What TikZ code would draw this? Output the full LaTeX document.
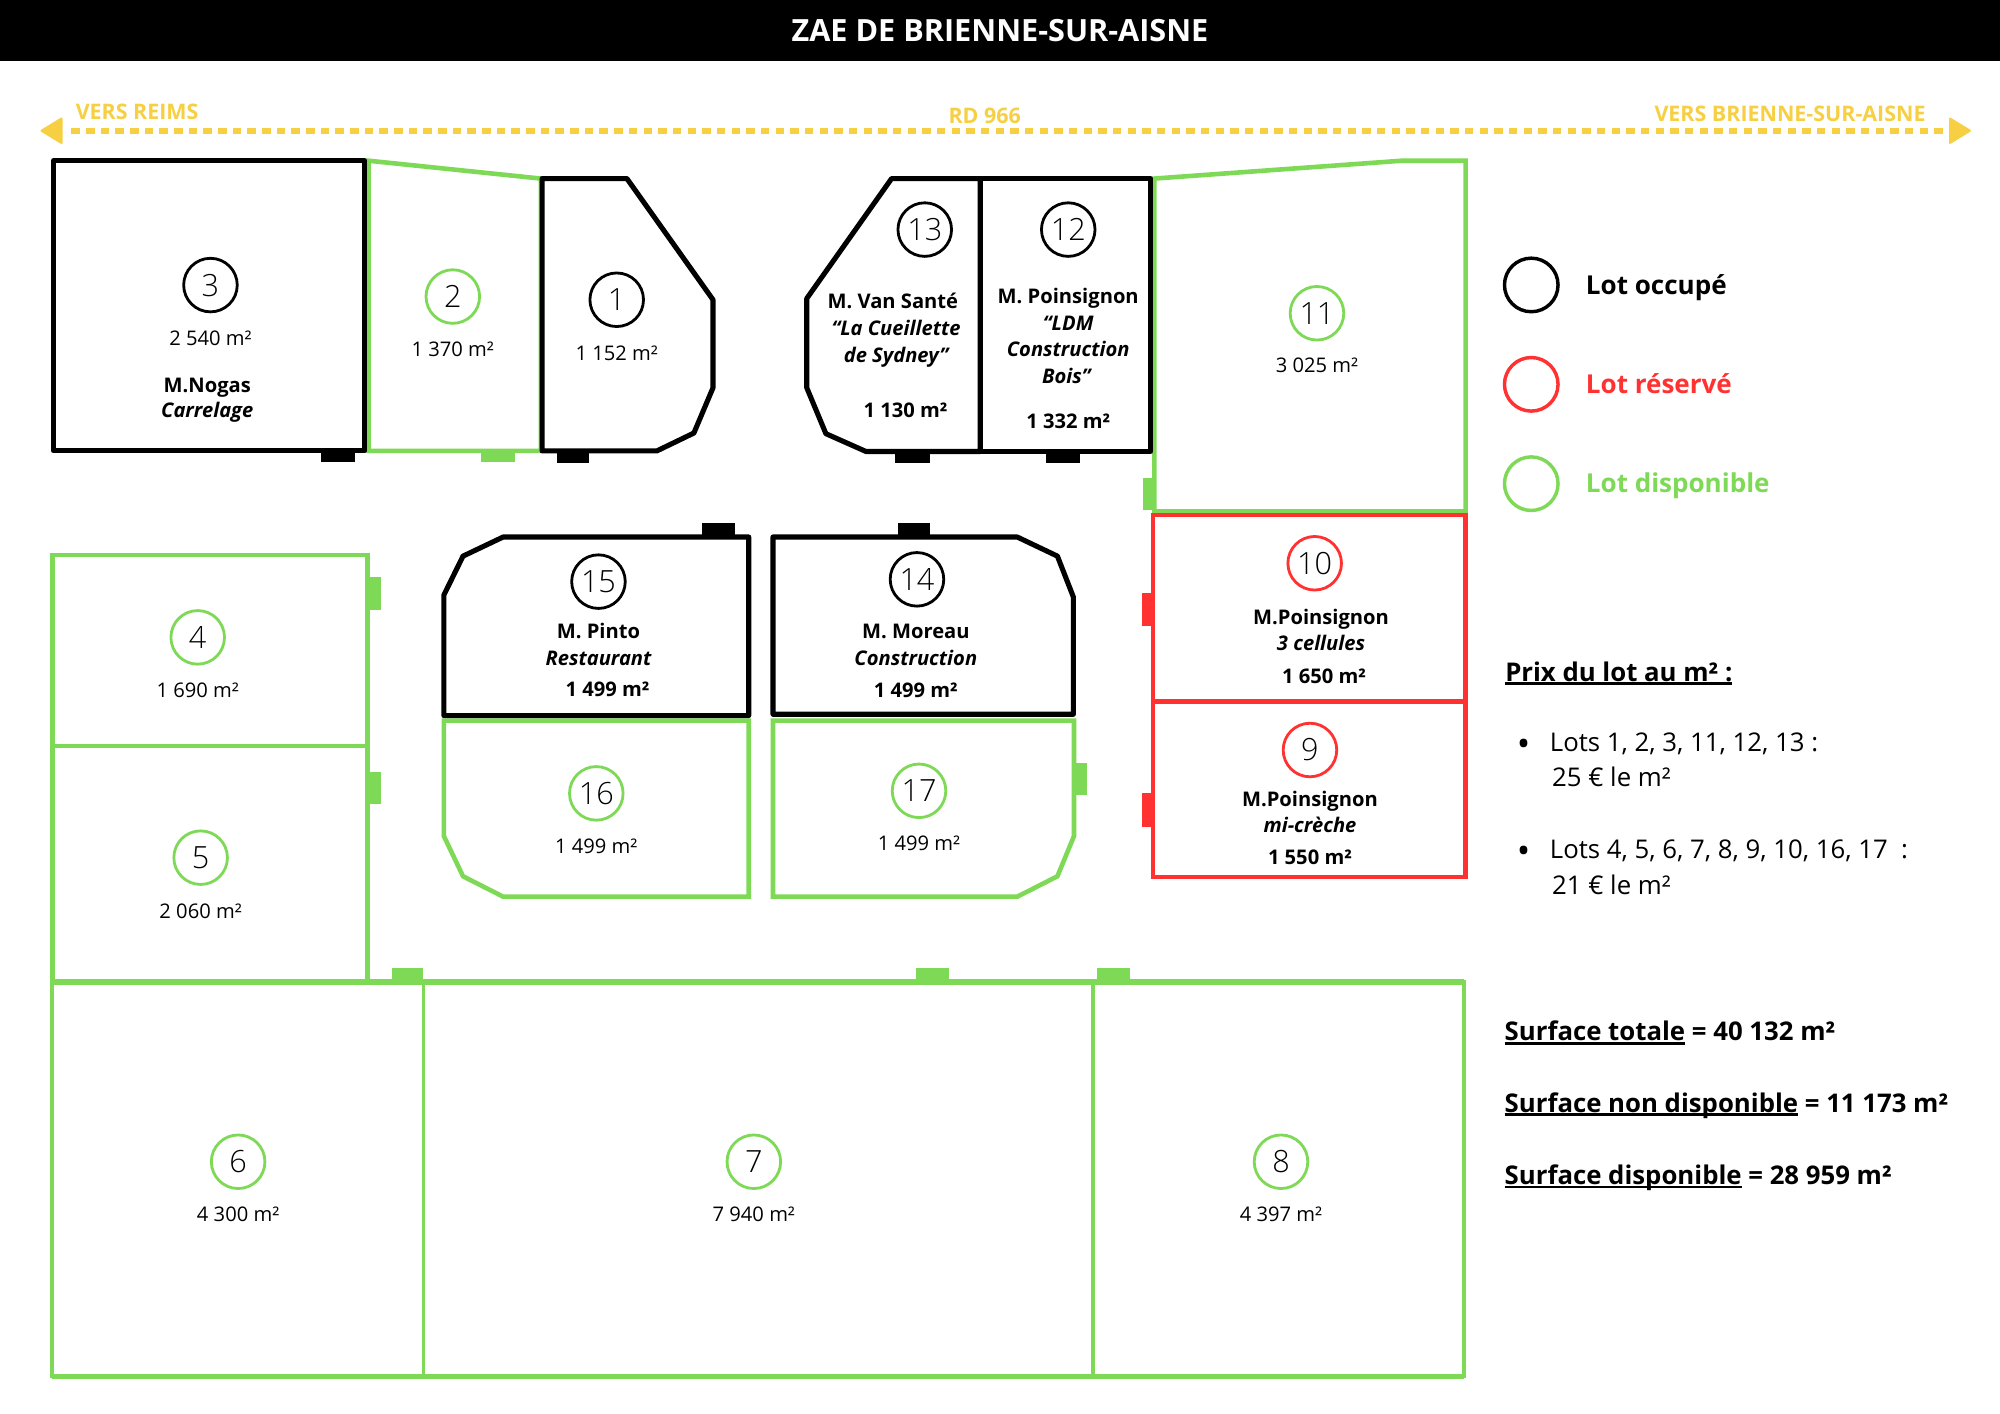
\documentclass[tikz,border=0pt]{standalone}
\usepackage{fontspec}
\setmainfont{Open Sans}
\IfFontExistsTF{Open Sans Light}{\newfontfamily\numfont{Open Sans Light}}{\newfontfamily\numfont{Open Sans}}
\definecolor{lgreen}{HTML}{7ED957}
\definecolor{lred}{HTML}{FF3131}
\definecolor{lyellow}{HTML}{F6D042}
\newcommand\ulx[1]{\sbox0{#1}\rlap{\rule[-1.6pt]{\wd0}{1.1pt}}\usebox0}
\begin{document}
\begin{tikzpicture}[x=0.5pt,y=-0.5pt,
 blk/.style={draw=black,line width=2pt,line join=round},
 grn/.style={draw=lgreen,line width=1.8pt},
 rdl/.style={draw=lred,line width=1.7pt},
 num/.style={circle,draw=#1,line width=1.1pt,minimum size=21pt,inner sep=0pt,font=\fontsize{12}{12}\numfont},
 legc/.style={circle,draw=#1,line width=1.35pt,minimum size=21pt,inner sep=0pt},
 area/.style={inner sep=0pt,text height=5.7pt,text depth=0pt,font=\fontsize{7.9}{9}\selectfont},
 bl/.style={area,font=\fontsize{7.9}{9}\selectfont\bfseries},
 bi/.style={area,font=\fontsize{7.9}{9}\selectfont\bfseries\itshape},
 big/.style={inner sep=0pt,text height=7.3pt,text depth=0pt,anchor=west,font=\fontsize{10.1}{12}\selectfont},
 bigb/.style={big,font=\fontsize{10.1}{12}\selectfont\bfseries},
 bul/.style={inner sep=0pt,anchor=base,font=\fontsize{14}{15}\selectfont},
 legt/.style={inner sep=0pt,text height=7.3pt,text depth=0pt,anchor=west,font=\fontsize{10.2}{12}\selectfont\bfseries},
 road/.style={inner sep=0pt,text height=6pt,text depth=0pt,text=lyellow,font=\fontsize{8.4}{10}\selectfont\bfseries},
 tabk/.style={fill=black},
 tabg/.style={fill=lgreen},
 tabr/.style={fill=lred},
]
\useasboundingbox[fill=white] (0,0) rectangle (1568,1108);
% title bar
\fill[black] (0,0) rectangle (1568,48);
\node[text=white,inner sep=0pt,text height=8.6pt,text depth=0pt,font=\fontsize{12}{14}\selectfont\bfseries] (title) at (784,24) {ZAE DE BRIENNE-SUR-AISNE};
% road
\coordinate (rl) at (56,102.5);
\coordinate (rr) at (1526,102.5);
\draw[lyellow,line width=2.35pt,dash pattern=on 3.3pt off 2.45pt] (rl) -- (rr);
\fill[lyellow,rounded corners=0.8pt] (31,102.5) -- (49,91.5) -- (49,113.5) -- cycle;
\fill[lyellow,rounded corners=0.8pt] (1546,102.5) -- (1528,91.5) -- (1528,113.5) -- cycle;
\node[road,anchor=west] (vr) at (59,88) {VERS REIMS};
\node[road] (rd) at (772,90.5) {RD 966};
\node[road,anchor=east] (vb) at (1510,89) {VERS BRIENNE-SUR-AISNE};
% green lots
\draw[grn] (289,126) -- (424,140) -- (424,353.5) -- (289,353.5) -- cycle;
\draw[grn] (905,140) -- (1099,126) -- (1149,126) -- (1149,401) -- (905,401) -- cycle;
\draw[grn] (41,435) rectangle (288,585);
\draw[grn] (41,585) rectangle (288,770);
\draw[grn] (348,565) -- (587,565) -- (587,703) -- (394.5,703) -- (363,687) -- (348,655.5) -- cycle;
\draw[grn] (606,565) -- (842,565) -- (842,655.5) -- (829,687) -- (797.5,703) -- (606,703) -- cycle;
\draw[grn,line width=1.5pt] (41,770) rectangle (1148,1079);
\draw[grn,line width=2.1pt] (41,770) -- (1148,770);
\draw[grn,line width=2.1pt] (41,1079) -- (1148,1079);
\draw[grn,line width=1.5pt] (332,770) -- (332,1079);
\draw[grn,line width=1.5pt] (857,770) -- (857,1079);
% red lots
\draw[rdl] (904,403.5) rectangle (1149,550);
\draw[rdl] (904,550) rectangle (1149,687.5);
% black lots
\draw[blk] (42,126) rectangle (286,353.5);
\draw[blk] (425,140) -- (491.5,140) -- (559,235) -- (559,304) -- (544,339.5) -- (515,353.5) -- (425,353.5) -- cycle;
\draw[blk] (699,140) -- (768.5,140) -- (768.5,354) -- (679,354) -- (647.5,340) -- (632.5,304) -- (632.5,234) -- cycle;
\draw[blk] (768.5,140) rectangle (902,354);
\draw[blk] (394.5,421) -- (587,421) -- (587,561) -- (348,561) -- (348,466.5) -- (363,436) -- cycle;
\draw[blk] (606,421) -- (797.5,421) -- (829,436) -- (841.5,468) -- (841.5,560) -- (606,560) -- cycle;
% access tabs
\fill[tabk] (252,353.5) rectangle (278,362.5);
\fill[tabg] (377,353.5) rectangle (404,362.5);
\fill[tabk] (437,354) rectangle (462,363);
\fill[tabk] (702,354) rectangle (729,363);
\fill[tabk] (820,354) rectangle (847,363);
\fill[tabg] (896,375) rectangle (905,400);
\fill[tabr] (895,465) rectangle (905,491);
\fill[tabr] (895,622) rectangle (905,648);
\fill[tabg] (288,452) rectangle (298.5,478);
\fill[tabg] (288,605) rectangle (298.5,630);
\fill[tabk] (550,410) rectangle (576,421);
\fill[tabk] (704,410) rectangle (729,421);
\fill[tabg] (841.5,598) rectangle (852,623);
\fill[tabg] (307,759) rectangle (332,770);
\fill[tabg] (718.5,759) rectangle (744,770);
\fill[tabg] (860,759) rectangle (886,770);
% lot 3
\node[num=black] (n3) at (165,223.5) {3};
\node[area] (a3) at (165,265) {2 540 m²};
\node[bl] (o3) at (162.5,302) {M.Nogas};
\node[bi] (t3) at (162.5,321.5) {Carrelage};
% lot 2
\node[num=lgreen] (n2) at (355,232.5) {2};
\node[area] (a2) at (355,274) {1 370 m²};
% lot 1
\node[num=black] (n1) at (483.5,235) {1};
\node[area] (a1) at (483.5,277) {1 152 m²};
% lot 13
\node[num=black] (n13) at (725,180) {13};
\node[bl] (o13) at (700,236.5) {M. Van Santé};
\node[bi] (t13a) at (702.5,257.4) {“La Cueillette};
\node[bi] (t13b) at (702.5,278.3) {de Sydney”};
\node[bl] (a13) at (710,322) {1 130 m²};
% lot 12
\node[num=black] (n12) at (837.5,180) {12};
\node[bl] (o12) at (837.5,232) {M. Poinsignon};
\node[bi] (t12a) at (837.5,253.5) {“LDM};
\node[bi] (t12b) at (837.5,274) {Construction};
\node[bi] (t12c) at (836,295) {Bois”};
\node[bl] (a12) at (837.5,330.6) {1 332 m²};
% lot 11
\node[num=lgreen] (n11) at (1032.5,245.6) {11};
\node[area] (a11) at (1032.5,286.7) {3 025 m²};
% lot 10
\node[num=lred] (n10) at (1030.7,441.6) {10};
\node[bl] (o10) at (1035.7,484) {M.Poinsignon};
\node[bi] (t10) at (1035.7,504.4) {3 cellules};
\node[bl] (a10) at (1038,530.5) {1 650 m²};
% lot 9
\node[num=lred] (n9) at (1027,588) {9};
\node[bl] (o9) at (1027,626.7) {M.Poinsignon};
\node[bi] (t9) at (1027,646.8) {mi-crèche};
\node[bl] (a9) at (1027,672.4) {1 550 m²};
% lot 4
\node[num=lgreen] (n4) at (155,499.7) {4};
\node[area] (a4) at (155,541) {1 690 m²};
% lot 5
\node[num=lgreen] (n5) at (157.3,672.4) {5};
\node[area] (a5) at (157.3,714.3) {2 060 m²};
% lot 15
\node[num=black] (n15) at (469.2,456) {15};
\node[bl] (o15) at (469.2,495.2) {M. Pinto};
\node[bi] (t15) at (469.2,516) {Restaurant};
\node[bl] (a15) at (476.3,540.4) {1 499 m²};
% lot 14
\node[num=black] (n14) at (718.9,454.2) {14};
\node[bl] (o14) at (718,495.2) {M. Moreau};
\node[bi] (t14) at (718,516) {Construction};
\node[bl] (a14) at (718,541) {1 499 m²};
% lot 16
\node[num=lgreen] (n16) at (467.5,622) {16};
\node[area] (a16) at (467.5,663.3) {1 499 m²};
% lot 17
\node[num=lgreen] (n17) at (720.5,620) {17};
\node[area] (a17) at (720.5,661.2) {1 499 m²};
% lots 6 7 8
\node[num=lgreen] (n6) at (186.7,910.8) {6};
\node[area] (a6) at (186.7,952) {4 300 m²};
\node[num=lgreen] (n7) at (591,910.8) {7};
\node[area] (a7) at (591,952) {7 940 m²};
\node[num=lgreen] (n8) at (1004.3,910.8) {8};
\node[area] (a8) at (1004.3,952) {4 397 m²};
% legend
\node[legc=black] (l1) at (1200.5,223.4) {};
\node[legt] (lt1) at (1243,223.4) {Lot occupé};
\node[legc=lred] (l2) at (1200.5,301.3) {};
\node[legt,text=lred] (lt2) at (1243,301.3) {Lot réservé};
\node[legc=lgreen] (l3) at (1200.5,379.2) {};
\node[legt,text=lgreen] (lt3) at (1243,379.2) {Lot disponible};
% prices
\node[bigb] (px) at (1179.7,526.6) {\ulx{Prix du lot au m² :}};
\node[bul] (b1) at (1194.5,593.3) {•};
\node[big] (p1) at (1214.7,582) {Lots 1, 2, 3, 11, 12, 13 :};
\node[big] (p1b) at (1216.5,609.7) {25 € le m²};
\node[bul] (b2) at (1194.5,676.9) {•};
\node[big] (p2) at (1214.7,665.6) {Lots 4, 5, 6, 7, 8, 9, 10, 16, 17\ \ :};
\node[big] (p2b) at (1216.5,693.8) {21 € le m²};
% surfaces
\node[bigb] (s1) at (1179.3,808.8) {\ulx{Surface totale} = 40 132 m²};
\node[bigb] (s2) at (1179.3,864.5) {\ulx{Surface non disponible} = 11 173 m²};
\node[bigb] (s3) at (1179.3,921.2) {\ulx{Surface disponible} = 28 959 m²};
\end{tikzpicture}
\end{document}
